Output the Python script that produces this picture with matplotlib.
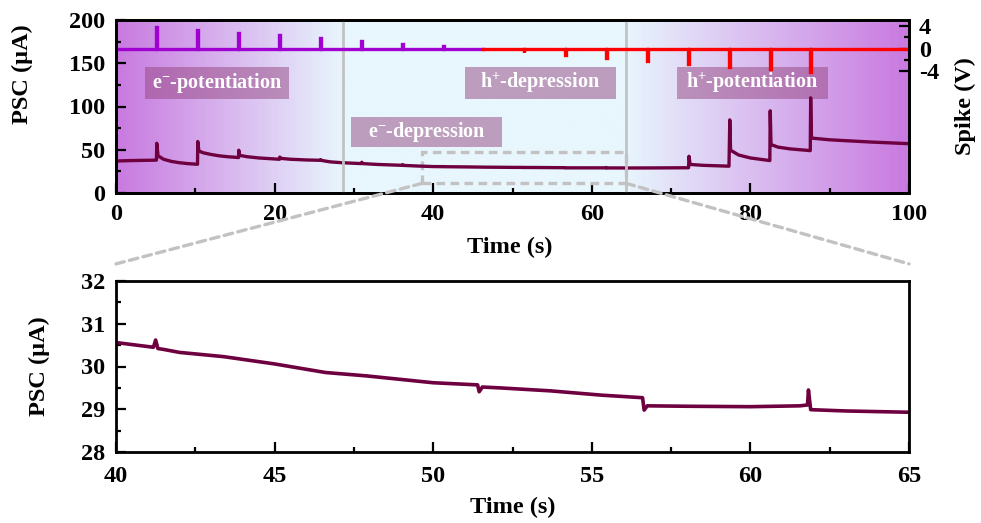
import numpy as np
import matplotlib
matplotlib.use('Agg')
import matplotlib.pyplot as plt
from matplotlib.colors import LinearSegmentedColormap
from matplotlib.patches import Rectangle, ConnectionPatch
from matplotlib.ticker import MultipleLocator, FixedLocator

plt.rcParams['font.family'] = ['Liberation Serif', 'DejaVu Serif']
plt.rcParams['font.weight'] = 'bold'
plt.rcParams['axes.labelweight'] = 'bold'
plt.rcParams['axes.unicode_minus'] = False
plt.rcParams['mathtext.fontset'] = 'custom'
plt.rcParams['mathtext.rm'] = 'Liberation Serif:bold'
plt.rcParams['mathtext.it'] = 'Liberation Serif:bold:italic'
plt.rcParams['mathtext.bf'] = 'Liberation Serif:bold'

# ---------------- data ----------------
psc_time = [0, 2, 5.1, 5.14, 5.3, 6, 7, 8, 9, 10.28, 10.31, 10.45, 11, 12, 13, 14,
            15.45, 15.48, 15.6, 16.5, 18, 20.62, 20.65, 20.8, 22, 24, 25.8, 25.82,
            25.95, 27, 28.5, 30.95, 31.0, 31.1, 33, 36.1, 36.16, 36.25, 38, 40,
            41.18, 41.25, 41.32, 41.5, 42.0, 43.4, 45.0, 46.6, 47.9, 50.0, 51.4,
            51.45, 51.55, 52.1, 53.7, 55.3, 56.6, 56.65, 56.75, 58, 60, 61.56,
            61.8, 61.83, 61.9, 63, 65, 68, 72.2, 72.26, 72.4, 74, 77.3, 77.4,
            77.5, 78.5, 80, 82.45, 82.5, 82.6, 83.5, 85, 87.55, 87.6, 87.7, 90,
            95, 100]
psc_value = [37.0, 37.5, 38.0, 57.5, 43.0, 39.0, 36.5, 35.0, 34.0, 33.2, 59.5, 48.5,
             46.5, 44.5, 43.0, 42.0, 41.0, 49.5, 43.5, 42.0, 40.5, 39.0, 41.5, 40.0,
             39.0, 38.2, 37.8, 38.5, 37.6, 36.0, 35.0, 34.0, 35.5, 34.0, 33.0, 32.0,
             32.8, 31.9, 31.2, 30.56, 30.45, 30.62, 30.42, 30.40, 30.33, 30.23,
             30.06, 29.86, 29.78, 29.62, 29.57, 29.41, 29.52, 29.50, 29.43, 29.33,
             29.27, 28.98, 29.08, 29.07, 29.06, 29.08, 29.10, 29.45, 28.99, 28.96,
             28.93, 29.0, 29.2, 42.5, 33.0, 32.0, 31.0, 84.5, 49.5, 44.0, 40.5,
             37.5, 95.0, 56.0, 53.0, 51.0, 49.0, 110.0, 63.5, 61.5, 59.0, 57.0]

pos_spike_time = [5.14, 10.31, 15.48, 20.65, 25.82, 30.99, 36.16, 41.25]
pos_spike_amp = [3.75, 3.3, 2.8, 2.35, 1.9, 1.3, 0.8, 0.4]
neg_spike_time = [51.45, 56.65, 61.83, 67.0, 72.2, 77.4, 82.5, 87.6]
neg_spike_amp = [-0.5, -1.1, -1.7, -2.2, -2.7, -3.2, -3.6, -4.05]
spike_switch_time = 46.3

phase_boundaries = [28.6, 64.3]
zoom_window = [38.6, 64.3, 11.2, 47.7]  # x0, x1, y0, y1

phase_labels = ['e$^{-}$-potentiation', 'e$^{-}$-depression',
                'h$^{+}$-depression', 'h$^{+}$-potentiation']
phase_label_x = [12.7, 39.15, 53.5, 80.25]
phase_label_y = [127.2, 70.5, 127.2, 127.2]
phase_label_w = [18.2, 19.0, 19.0, 19.1]
phase_label_h = [37.0, 35.4, 37.0, 37.0]

# ---------------- styling ----------------
PSC_COLOR = '#6E0040'
POS_COLOR = '#A000D0'
NEG_COLOR = '#FF0000'
PURPLE = '#C97AE0'
LIGHT = '#E8F6FD'
GRAY = '#C2C2C2'
TICK_FS = 17.5
LABEL_FS = 17.5


def pulse_train(times, amps, t0, t1, w=0.12):
    xs, ys = [t0], [0.0]
    for t, a in zip(times, amps):
        xs += [t - w / 2, t - w / 2, t + w / 2, t + w / 2]
        ys += [0.0, a, a, 0.0]
    xs.append(t1)
    ys.append(0.0)
    return xs, ys


def style_axis(a):
    for s in a.spines.values():
        s.set_linewidth(2.0)
    a.tick_params(which='both', direction='in', width=1.6, labelsize=TICK_FS)
    a.tick_params(which='major', length=7)
    a.tick_params(which='minor', length=3.5)


fig = plt.figure(figsize=(9.81, 5.23), dpi=100)

W, H = 981.0, 523.0
ax = fig.add_axes([116 / W, 1 - 193 / H, 793 / W, 173 / H])
ax_in = fig.add_axes([116 / W, 1 - 452 / H, 793 / W, 171 / H])

# gradient background
b0, b1 = phase_boundaries
cmap = LinearSegmentedColormap.from_list(
    'bg', [(0, PURPLE), (b0 / 100, LIGHT), (b1 / 100, LIGHT), (1, PURPLE)])
ax.imshow(np.linspace(0, 1, 600)[None, :], cmap=cmap, extent=[0, 100, 0, 200],
          aspect='auto', zorder=0, interpolation='bilinear')

ax.set_xlim(0, 100)
ax.set_ylim(0, 200)

# phase labels
for lab, x, y, w, h in zip(phase_labels, phase_label_x, phase_label_y,
                           phase_label_w, phase_label_h):
    ax.add_patch(Rectangle((x - w / 2, y - h / 2), w, h, facecolor='#94457F',
                           alpha=0.5, edgecolor='none', zorder=2))
    ax.text(x, y, lab, ha='center', va='center', color='white', fontsize=14.5,
            fontweight='bold', zorder=3)

# PSC trace
ax.plot(psc_time, psc_value, color=PSC_COLOR, lw=2.4, zorder=4)

# zoom rectangle
x0, x1, y0, y1 = zoom_window
ax.add_patch(Rectangle((x0, y0), x1 - x0, y1 - y0, fill=False, edgecolor=GRAY,
                       lw=2.4, linestyle=(0, (2.6, 1.6)), zorder=3))

# boundaries
for b in phase_boundaries:
    ax.axvline(b, color=GRAY, lw=2.0, zorder=5)

ax.xaxis.set_major_locator(MultipleLocator(20))
ax.xaxis.set_minor_locator(MultipleLocator(10))
ax.yaxis.set_major_locator(MultipleLocator(50))
ax.yaxis.set_minor_locator(MultipleLocator(25))
style_axis(ax)
ax.tick_params(axis='x', pad=8)
ax.tick_params(axis='y', pad=8, right=False)
ax.set_xlabel('Time (s)', fontsize=LABEL_FS)
ax.set_ylabel('PSC (µA)', fontsize=LABEL_FS)
ax.xaxis.set_label_coords(0.497, -0.252)
ax.yaxis.set_label_coords(-0.105, 0.69)

# spike axis
ax2 = ax.twinx()
ax2.set_ylim(-25.4, 5.05)
px, py = pulse_train(pos_spike_time, pos_spike_amp, 0, spike_switch_time)
nx, ny = pulse_train(neg_spike_time, neg_spike_amp, spike_switch_time, 100)
ax2.plot(px, py, color=POS_COLOR, lw=2.4, solid_joinstyle='miter')
ax2.plot(nx, ny, color=NEG_COLOR, lw=2.4, solid_joinstyle='miter')
ax2.yaxis.set_major_locator(FixedLocator([-4, 0, 4]))
ax2.yaxis.set_minor_locator(FixedLocator([-2, 2]))
style_axis(ax2)
ax2.tick_params(axis='y', pad=7)
ax2.set_ylabel('Spike (V)', fontsize=LABEL_FS)
ax2.yaxis.set_label_coords(1.058, 0.5)

# inset
ax_in.plot(psc_time, psc_value, color=PSC_COLOR, lw=2.6)
ax_in.set_xlim(40, 65)
ax_in.set_ylim(28, 32)
ax_in.xaxis.set_major_locator(MultipleLocator(5))
ax_in.xaxis.set_minor_locator(MultipleLocator(2.5))
ax_in.yaxis.set_major_locator(MultipleLocator(1))
ax_in.yaxis.set_minor_locator(MultipleLocator(0.5))
style_axis(ax_in)
ax_in.tick_params(axis='x', pad=10)
ax_in.tick_params(axis='y', pad=8)
ax_in.set_xlabel('Time (s)', fontsize=LABEL_FS)
ax_in.set_ylabel('PSC (µA)', fontsize=LABEL_FS)
ax_in.xaxis.set_label_coords(0.5, -0.262)
ax_in.yaxis.set_label_coords(-0.083, 0.5)

# connector lines
for xa, xb in [(x0, 0.0), (x1, 1.0)]:
    con = ConnectionPatch(xyA=(xa, y0), coordsA=ax.transData,
                          xyB=(xb, 1.1), coordsB=ax_in.transAxes,
                          color=GRAY, lw=2.4, linestyle=(0, (2.6, 1.6)),
                          zorder=10)
    fig.add_artist(con)

fig.savefig('out.png', dpi=100)
